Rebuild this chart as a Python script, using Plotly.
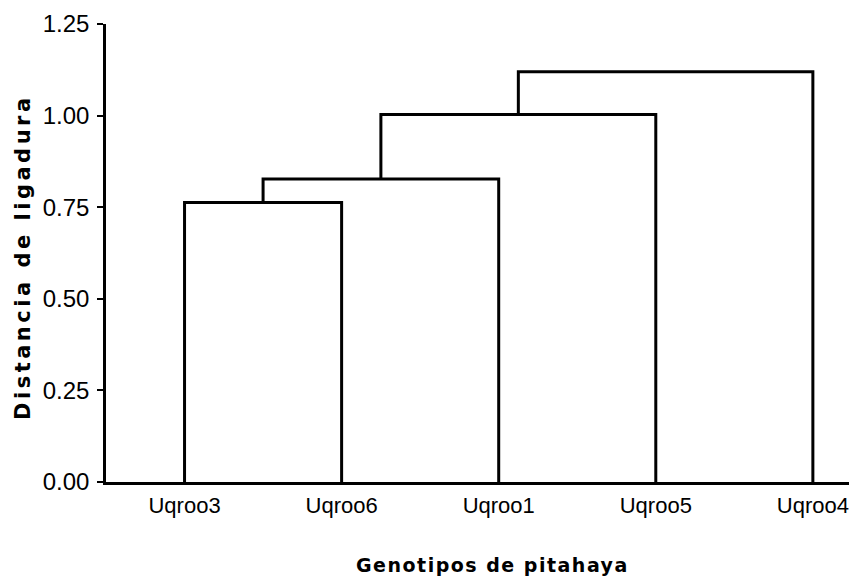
import plotly.graph_objects as go

# Leaves in dendrogram order
leaves = ["Uqroo3", "Uqroo6", "Uqroo1", "Uqroo5", "Uqroo4"]
# Successive merges: (left member, right member, linkage distance)
merge_left = ["Uqroo3", "C1", "C2", "C3"]
merge_right = ["Uqroo6", "Uqroo1", "Uqroo5", "Uqroo4"]
merge_height = [0.763, 0.827, 1.003, 1.12]
merge_name = ["C1", "C2", "C3", "C4"]

y_ticks = [0.0, 0.25, 0.5, 0.75, 1.0, 1.25]

pos = {name: i + 1 for i, name in enumerate(leaves)}
hgt = {name: 0.0 for name in leaves}

fig = go.Figure()
for a, b, h, n in zip(merge_left, merge_right, merge_height, merge_name):
    xa, xb = pos[a], pos[b]
    fig.add_trace(go.Scatter(
        x=[xa, xa, xb, xb], y=[hgt[a], h, h, hgt[b]],
        mode="lines", line=dict(color="black", width=3),
        hoverinfo="skip", showlegend=False, cliponaxis=False))
    pos[n] = (xa + xb) / 2
    hgt[n] = h

W, H = 849, 585
l, r, t, b = 106, 0, 24, 103

fig.update_layout(
    width=W, height=H,
    margin=dict(l=l, r=r, t=t, b=b, pad=0),
    paper_bgcolor="white", plot_bgcolor="white",
    showlegend=False,
    xaxis=dict(
        range=[0.5, 5.23],
        tickmode="array", tickvals=list(range(1, len(leaves) + 1)), ticktext=leaves,
        showgrid=False, zeroline=False,
        showline=True, linecolor="black", linewidth=3,
        ticks="", ticklabelstandoff=2,
        tickfont=dict(family="Liberation Sans, Arial", size=22, color="black"),
    ),
    yaxis=dict(
        range=[0, 1.25],
        tickmode="array", tickvals=y_ticks,
        tickformat=".2f",
        showgrid=False, zeroline=False,
        showline=True, linecolor="black", linewidth=2.5,
        ticks="outside", ticklen=6, tickwidth=1.5, tickcolor="black",
        ticklabelstandoff=3,
        tickfont=dict(family="Liberation Sans, Arial", size=24, color="black"),
    ),
)

pw, ph = W - l - r, H - t - b


def px_to_paper(xp, yp):
    return (xp - l) / pw, (H - b - yp) / ph


tx, ty = px_to_paper(492, 565)
fig.add_annotation(
    text='<b><span style="letter-spacing:1.5px">Genotipos de pitahaya</span></b>',
    x=tx, y=ty, xref="paper", yref="paper", xanchor="center", yanchor="middle",
    showarrow=False, font=dict(family="DejaVu Sans", size=19, color="black"))

yx, yy = px_to_paper(23, 257)
fig.add_annotation(
    text='<b><span style="letter-spacing:3.5px">Distancia de ligadura</span></b>',
    x=yx, y=yy, xref="paper", yref="paper", xanchor="center", yanchor="middle",
    textangle=-90,
    showarrow=False, font=dict(family="DejaVu Sans", size=21, color="black"))

fig.write_html("out.html", config={"displayModeBar": False},
               post_script="document.body.style.margin='0px';")
